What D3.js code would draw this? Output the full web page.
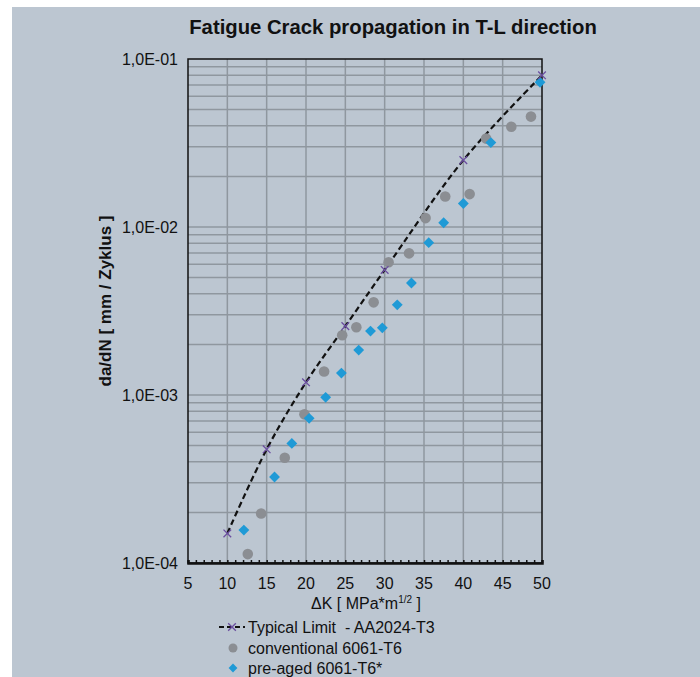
<!DOCTYPE html>
<html>
<head>
<meta charset="utf-8">
<script src="https://cdn.jsdelivr.net/npm/d3@7"></script>
<style>
  body { margin: 0; background: #fff; }
  svg text { font-family: "Liberation Sans", Arial, sans-serif; fill: #111; }
</style>
</head>
<body>
<svg id="chart" width="700" height="677"></svg>
<script>
// data
const limitK = [10, 15, 20, 25, 30, 40, 50];
const limitRate = [1.5e-4, 4.75e-4, 1.19e-3, 2.57e-3, 5.55e-3, 2.5e-2, 8.0e-2];

const convK = [12.6, 14.3, 17.3, 19.8, 22.3, 24.6, 26.4, 28.6, 30.5, 33.1, 35.2, 37.7, 40.8, 42.9, 46.1, 48.6];
const convRate = [1.13e-4, 1.97e-4, 4.23e-4, 7.67e-4, 1.38e-3, 2.27e-3, 2.53e-3, 3.56e-3, 6.17e-3, 6.97e-3, 1.13e-2, 1.52e-2, 1.57e-2, 3.36e-2, 3.95e-2, 4.54e-2];

const preK = [12.1, 16.0, 18.2, 20.4, 22.5, 24.5, 26.7, 28.2, 29.7, 31.6, 33.4, 35.6, 37.5, 40.0, 43.5, 49.75];
const preRate = [1.57e-4, 3.25e-4, 5.15e-4, 7.26e-4, 9.68e-4, 1.35e-3, 1.85e-3, 2.40e-3, 2.51e-3, 3.44e-3, 4.64e-3, 8.07e-3, 1.06e-2, 1.38e-2, 3.18e-2, 7.26e-2];

const xTicks = [5, 10, 15, 20, 25, 30, 35, 40, 45, 50];
const yTicks = [1e-4, 1e-3, 1e-2, 1e-1];
const yTickLabels = ["1,0E-04", "1,0E-03", "1,0E-02", "1,0E-01"];
const legendLabels = ["Typical Limit  - AA2024-T3", "conventional 6061-T6", "pre-aged 6061-T6*"];

const cfg = {
    plot: { left: 188, right: 542, top: 59, bottom: 563 },
    bg: "#bcc6d1",
    grid: "#8f979f",
    gray: "#8b8e93",
    blue: "#1f9ad6",
    purple: "#6b4ea0"
};

const svg = d3.select("#chart");

svg.append("rect").attr("x", 12).attr("y", 7).attr("width", 688).attr("height", 670)
    .attr("fill", cfg.bg);

const x = d3.scaleLinear().domain([5, 50]).range([cfg.plot.left, cfg.plot.right]);
const y = d3.scaleLog().domain([1e-4, 1e-1]).range([cfg.plot.bottom, cfg.plot.top]);

// grid: every 1..9 step per decade
const gridY = [];
for (let e = -4; e <= -2; e++) {
    for (let m = 1; m <= 9; m++) {
        const v = m * Math.pow(10, e);
        if (v > 1e-4) gridY.push(v);
    }
}
const grid = svg.append("g");
grid.selectAll("line.h").data(gridY).join("line")
    .attr("x1", cfg.plot.left).attr("x2", cfg.plot.right)
    .attr("y1", d => y(d)).attr("y2", d => y(d))
    .attr("stroke", cfg.grid).attr("stroke-width", 1.5);
grid.selectAll("line.v").data(xTicks.slice(1, -1)).join("line")
    .attr("x1", d => x(d)).attr("x2", d => x(d))
    .attr("y1", cfg.plot.top).attr("y2", cfg.plot.bottom)
    .attr("stroke", cfg.grid).attr("stroke-width", 1.5);

// frame
svg.append("rect")
    .attr("x", cfg.plot.left).attr("y", cfg.plot.top)
    .attr("width", cfg.plot.right - cfg.plot.left).attr("height", cfg.plot.bottom - cfg.plot.top)
    .attr("fill", "none").attr("stroke", "#111").attr("stroke-width", 1.5);

// x axis with minor ticks pointing up
const xAxis = d3.axisBottom(x).tickValues(d3.range(5, 51, 1)).tickSize(-3).tickFormat("");
svg.append("g").attr("transform", `translate(0,${cfg.plot.bottom})`).call(xAxis)
    .call(g => g.select(".domain").attr("stroke", "#111").attr("stroke-width", 2.5))
    .call(g => g.selectAll(".tick line").attr("stroke", "#111").attr("stroke-width", 1.5));

svg.append("g").selectAll("text").data(xTicks).join("text")
    .attr("x", d => x(d)).attr("y", 589)
    .attr("text-anchor", "middle").attr("font-size", 16)
    .text(d => d);

svg.append("g").selectAll("text").data(yTicks).join("text")
    .attr("x", 178).attr("y", d => y(d)).attr("dy", "0.35em")
    .attr("text-anchor", "end").attr("font-size", 16)
    .text((d, i) => yTickLabels[i]);

// titles
svg.append("text").attr("x", 393).attr("y", 34)
    .attr("text-anchor", "middle").attr("font-size", 20.3).attr("font-weight", "bold")
    .text("Fatigue Crack propagation in T-L direction");

svg.append("text").attr("transform", "translate(111,301) rotate(-90)")
    .attr("text-anchor", "middle").attr("font-size", 17).attr("font-weight", "bold")
    .text("da/dN [ mm / Zyklus ]");

const xt = svg.append("text").attr("x", 366).attr("y", 609)
    .attr("text-anchor", "middle").attr("font-size", 16);
xt.append("tspan").text("ΔK [ MPa*m");
xt.append("tspan").attr("font-size", 10).attr("dy", -6).text("1/2");
xt.append("tspan").attr("dy", 6).text(" ]");

// marks
const limitPts = limitK.map((k, i) => [x(k), y(limitRate[i])]);
svg.append("path").datum(limitPts)
    .attr("d", d3.line().curve(d3.curveCatmullRom.alpha(0.5)))
    .attr("fill", "none").attr("stroke", "#111").attr("stroke-width", 2.2)
    .attr("stroke-dasharray", "6,3.5");

const diamond = d3.symbol().type(d3.symbolDiamond2).size(75);
const cross = d3.symbol().type(d3.symbolX).size(40);

svg.append("g").selectAll("circle").data(convK).join("circle")
    .attr("cx", d => x(d)).attr("cy", (d, i) => y(convRate[i])).attr("r", 5.3)
    .attr("fill", cfg.gray);

svg.append("g").selectAll("path").data(preK).join("path")
    .attr("transform", (d, i) => `translate(${x(d)},${y(preRate[i])})`)
    .attr("d", diamond).attr("fill", cfg.blue);

svg.append("g").selectAll("path").data(limitK).join("path")
    .attr("transform", (d, i) => `translate(${x(d)},${y(limitRate[i])})`)
    .attr("d", cross).attr("fill", "none").attr("stroke", cfg.purple).attr("stroke-width", 1.3);

// legend
const lg = svg.append("g");
const rows = [627, 648, 668];
lg.append("line").attr("x1", 219).attr("x2", 245).attr("y1", rows[0]).attr("y2", rows[0])
    .attr("stroke", "#111").attr("stroke-width", 2).attr("stroke-dasharray", "5,3");
lg.append("path").attr("transform", `translate(232,${rows[0]})`).attr("d", cross)
    .attr("fill", "none").attr("stroke", cfg.purple).attr("stroke-width", 1.3);
lg.append("circle").attr("cx", 233).attr("cy", rows[1]).attr("r", 4.5).attr("fill", cfg.gray);
lg.append("path").attr("transform", `translate(233,${rows[2]})`)
    .attr("d", d3.symbol().type(d3.symbolDiamond2).size(50)).attr("fill", cfg.blue);
lg.selectAll("text").data(legendLabels).join("text")
    .attr("x", 248).attr("y", (d, i) => rows[i]).attr("dy", "0.35em")
    .attr("font-size", 16)
    .style("white-space", "pre")
    .text(d => d);
</script>
</body>
</html>
